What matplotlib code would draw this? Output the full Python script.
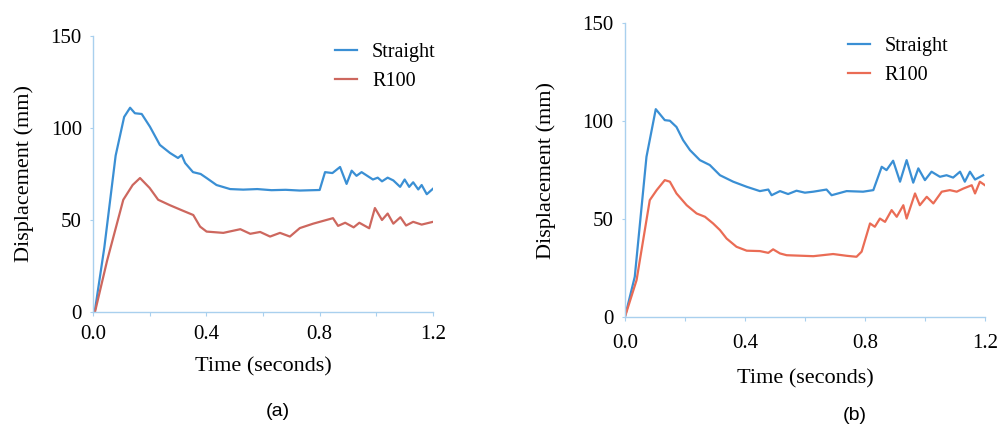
import matplotlib
matplotlib.use('Agg')
import matplotlib.pyplot as plt

plt.rcParams['font.family'] = ['Liberation Serif', 'DejaVu Serif']

# (a) time in seconds / displacement in mm
t_a_straight = [0.0, 0.007, 0.04, 0.08, 0.11, 0.131, 0.148, 0.172, 0.201, 0.236, 0.272, 0.300, 0.313,
                0.325, 0.353, 0.380, 0.401, 0.436, 0.484, 0.53, 0.58, 0.63, 0.68, 0.73, 0.80, 0.819,
                0.845, 0.872, 0.895, 0.913, 0.930, 0.948, 0.988, 1.005, 1.020, 1.040, 1.060, 1.084,
                1.100, 1.116, 1.130, 1.148, 1.160, 1.178, 1.200]
d_a_straight = [0, 1, 35, 85, 106, 111, 108, 107.6, 100.7, 90.8, 86.4, 83.7, 85.3,
                81, 76, 75, 72.8, 69, 66.8, 66.5, 66.8, 66.2, 66.4, 66.0, 66.3, 76,
                75.5, 78.8, 69.6, 76.8, 74, 76, 72, 73, 71, 73, 71.5, 68,
                72, 68, 70.5, 66.6, 69, 64, 67]
t_a_r100 = [0.0, 0.007, 0.05, 0.107, 0.14, 0.166, 0.2, 0.23, 0.272, 0.318, 0.354, 0.378, 0.401,
            0.46, 0.52, 0.555, 0.59, 0.625, 0.66, 0.695, 0.73, 0.777, 0.847, 0.865, 0.89,
            0.92, 0.94, 0.975, 0.995, 1.02, 1.04, 1.06, 1.085, 1.105, 1.13, 1.16, 1.2]
d_a_r100 = [0, 0, 28, 61, 69, 72.8, 67.4, 61, 58, 55, 52.7, 46.4, 43.7,
            43, 45, 42.5, 43.5, 41, 43, 41, 45.6, 48, 51, 46.8, 48.5,
            46, 48.5, 45.5, 56.5, 50, 53.5, 48, 51.5, 47, 49, 47.5, 49]

# (b)
t_b_straight = [0.0, 0.033, 0.072, 0.103, 0.133, 0.150, 0.172, 0.194, 0.217, 0.250, 0.283, 0.317,
                0.361, 0.406, 0.450, 0.478, 0.489, 0.517, 0.544, 0.572, 0.600, 0.628, 0.672, 0.689,
                0.739, 0.794, 0.828, 0.856, 0.872, 0.894, 0.917, 0.939, 0.961, 0.978, 1.000, 1.022,
                1.050, 1.072, 1.094, 1.117, 1.133, 1.150, 1.167, 1.194]
d_b_straight = [0, 20.6, 81.8, 106.1, 100.5, 100.2, 97, 90.3, 85.2, 80.1, 77.6, 72.4,
                69.1, 66.5, 64.3, 65.1, 62.2, 64.3, 62.8, 64.5, 63.5, 64.0, 65.1, 62.2,
                64.3, 64, 64.8, 76.7, 75, 79.8, 69.1, 80.1, 68.6, 75.9, 69.9, 74.2,
                71.6, 72.4, 71.2, 74.2, 69.1, 74.2, 70.2, 72.4]
t_b_r100 = [0.0, 0.039, 0.083, 0.106, 0.133, 0.150, 0.172, 0.206, 0.239, 0.267, 0.294, 0.317,
            0.339, 0.372, 0.406, 0.450, 0.478, 0.494, 0.517, 0.539, 0.628, 0.694, 0.739, 0.772,
            0.789, 0.817, 0.833, 0.850, 0.867, 0.889, 0.906, 0.928, 0.939, 0.967, 0.983, 1.006,
            1.028, 1.056, 1.083, 1.106, 1.128, 1.156, 1.167, 1.183, 1.200]
d_b_r100 = [0, 18.9, 59.7, 64.8, 69.9, 69.1, 63.1, 57.1, 52.9, 51.2, 47.8, 44.4,
            40.1, 35.9, 33.9, 33.7, 32.8, 34.6, 32.5, 31.6, 31.1, 32.2, 31.3, 30.8,
            33.4, 47.8, 46.1, 50.3, 48.6, 54.6, 51.2, 57.1, 50.3, 63.1, 57.1, 61.4,
            58, 64, 64.8, 64.0, 65.6, 67.3, 63.1, 69.1, 67.3]

x_ticks = [0.0, 0.2, 0.4, 0.6, 0.8, 1.0, 1.2]
x_labels = ['0.0', '', '0.4', '', '0.8', '', '1.2']
y_ticks = [0, 50, 100, 150]

spine_col = '#a9d0ee'
blue = '#3a8fd4'

fig = plt.figure(figsize=(10.03, 4.28), dpi=100)


def panel(rect, ts, ds, tr, dr, red, leg_anchor, tag, tag_xy, xpad, xlpad, ylpad):
    ax = fig.add_axes(rect)
    ax.plot(ts, ds, color=blue, lw=1.6, label='Straight')
    ax.plot(tr, dr, color=red, lw=1.6, label='R100')
    ax.set_xlim(0, 1.2)
    ax.set_ylim(0, 150)
    ax.set_xticks(x_ticks)
    ax.set_xticklabels(x_labels)
    ax.set_yticks(y_ticks)
    for s in ['top', 'right']:
        ax.spines[s].set_visible(False)
    for s in ['left', 'bottom']:
        ax.spines[s].set_color(spine_col)
        ax.spines[s].set_linewidth(1.0)
    ax.tick_params(axis='x', length=3, color=spine_col, labelsize=15, pad=xpad)
    ax.tick_params(axis='y', length=2, color=spine_col, labelsize=15, pad=6)
    ax.set_xlabel('Time (seconds)', fontsize=16, labelpad=xlpad)
    ax.set_ylabel('Displacement (mm)', fontsize=16, labelpad=ylpad)
    ax.legend(loc='upper left', bbox_to_anchor=leg_anchor, frameon=False, fontsize=14.5,
              handlelength=1.1, handletextpad=0.75, labelspacing=0.5)
    fig.text(tag_xy[0], tag_xy[1], tag, fontsize=14, family='Liberation Sans',
             ha='center', va='center')
    return ax


panel([0.0927, 0.271, 0.339, 0.645], t_a_straight, d_a_straight, t_a_r100, d_a_r100,
      '#cd675e', (0.658, 1.04), '(a)', (278 / 1003, 1 - 412 / 428), 6, 10, 12)
panel([0.623, 0.259, 0.359, 0.687], t_b_straight, d_b_straight, t_b_r100, d_b_r100,
      '#ea6c55', (0.568, 1.014), '(b)', (855 / 1003, 1 - 416 / 428), 9, 12, 19)

fig.savefig('out.png', dpi=100)
